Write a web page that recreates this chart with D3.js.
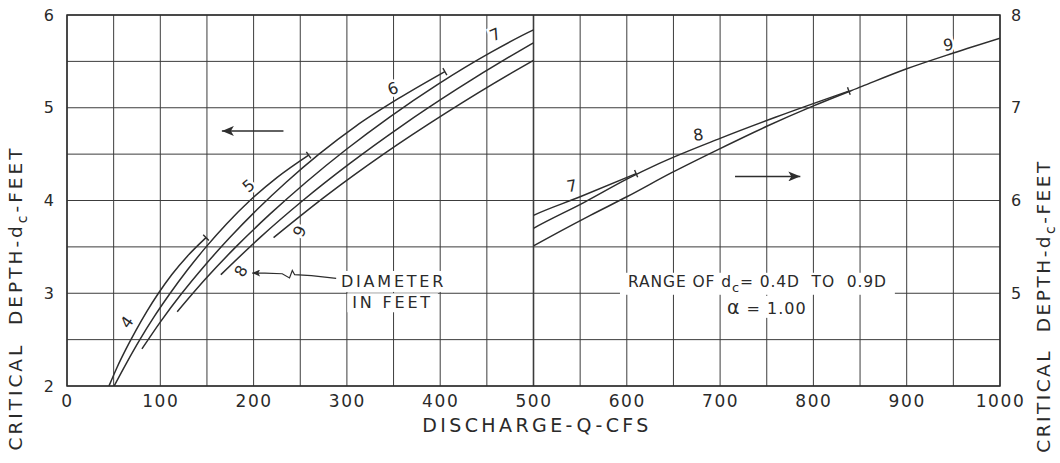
<!DOCTYPE html>
<html>
<head>
<meta charset="utf-8">
<script src="https://cdn.jsdelivr.net/npm/d3@7"></script>
<style>
body { margin: 0; background: #fff; }
svg { font-family: "DejaVu Sans", sans-serif; }
text { fill: #2a2a2a; }
</style>
</head>
<body>
<svg id="chart" width="1060" height="463"></svg>
<script>
// axis ticks
var qTicks = [0, 100, 200, 300, 400, 500, 600, 700, 800, 900, 1000]
var leftDepthTicks = [2, 3, 4, 5, 6]
var rightDepthTicks = [5, 6, 7, 8]
var qGrid = d3.range(0, 1001, 50)
var depthGrid = d3.range(2, 6.01, 0.5)

// [Q cfs, dc feet], one list per pipe diameter
var pipe4 = [[45,2.0],[53.6,2.2],[63.3,2.4],[73.9,2.6],[85.3,2.8],[98,3.0],[112.2,3.2],[129,3.4],[149,3.6]]
var pipe5 = [[50.5,2.0],[63.9,2.25],[78.1,2.5],[93.6,2.75],[110.6,3.0],[129,3.25],[149.1,3.5],[171.2,3.75],[196.1,4.0],[225.3,4.25],[259,4.49]]
var pipe6 = [[80.3,2.4],[100.7,2.7],[123.1,3.0],[147.7,3.3],[174.5,3.6],[203.5,3.9],[235.2,4.2],[270.1,4.5],[309.3,4.8],[355.4,5.1],[405,5.39]]
var pipe7 = [[118.1,2.8],[148.1,3.15],[181,3.5],[217.2,3.85],[256.5,4.2],[299.2,4.55],[345.8,4.9],[397,5.25],[454.7,5.6],[500,5.84],[550,6.04],[610,6.29]]
var pipe8 = [[164.9,3.2],[206.8,3.6],[252.8,4.0],[303.2,4.4],[358.1,4.8],[417.8,5.2],[482.8,5.6],[500,5.7],[554.4,5.98],[600,6.23],[634.9,6.4],[700,6.67],[760,6.9],[838,7.18]]
var pipe9 = [[221.4,3.6],[277.6,4.05],[339.3,4.5],[407.1,4.95],[480.8,5.4],[500,5.51],[560.9,5.84],[600,6.04],[648.1,6.3],[700,6.56],[750,6.8],[800,7.02],[852,7.23],[900,7.42],[950,7.59],[1000,7.75]]

var pipes = [
	{d: 4, pts: pipe4, endTick: "L"},
	{d: 5, pts: pipe5, endTick: "L"},
	{d: 6, pts: pipe6, endTick: "L"},
	{d: 7, pts: pipe7, endTick: "R"},
	{d: 8, pts: pipe8, endTick: "R"},
	{d: 9, pts: pipe9, endTick: null}
]

var svg = d3.select("#chart")
var ink = "#2e2e2e"

var x = d3.scaleLinear().domain([0, 1000]).range([67, 1000])
var yL = d3.scaleLinear().domain([2, 6]).range([386, 15])
var yR = d3.scaleLinear().domain([4, 8]).range([386, 15])

var defs = svg.append("defs")
defs.append("clipPath").attr("id", "clipL").append("rect")
	.attr("x", x(0)).attr("y", yL(6)).attr("width", x(500) - x(0)).attr("height", yL(2) - yL(6))
defs.append("clipPath").attr("id", "clipR").append("rect")
	.attr("x", x(500)).attr("y", yL(6)).attr("width", x(1000) - x(500)).attr("height", yL(2) - yL(6))
defs.append("marker")
	.attr("id", "head")
	.attr("viewBox", "0 -5 12 10")
	.attr("refX", 12).attr("refY", 0)
	.attr("markerWidth", 12).attr("markerHeight", 10)
	.attr("markerUnits", "userSpaceOnUse")
	.attr("orient", "auto")
	.append("path").attr("d", "M12,0L0,-5L3,0L0,5Z").attr("fill", ink)
defs.append("marker")
	.attr("id", "smallhead")
	.attr("viewBox", "0 -4 9 8")
	.attr("refX", 9).attr("refY", 0)
	.attr("markerWidth", 9).attr("markerHeight", 7)
	.attr("markerUnits", "userSpaceOnUse")
	.attr("orient", "auto")
	.append("path").attr("d", "M9,0L0,-4L2,0L0,4Z").attr("fill", ink)

// grid
var grid = svg.append("g").attr("stroke", "#3c3c3c").attr("stroke-width", 1)
grid.selectAll("line.v")
	.data(qGrid)
	.enter()
	.append("line")
	.attr("class", "v")
	.attr("x1", function(d){ return x(d) })
	.attr("x2", function(d){ return x(d) })
	.attr("y1", yL(2))
	.attr("y2", yL(6))
	.attr("stroke-width", function(d){ return d == 500 ? 1.6 : 1 })
grid.selectAll("line.h")
	.data(depthGrid)
	.enter()
	.append("line")
	.attr("class", "h")
	.attr("x1", x(0))
	.attr("x2", x(1000))
	.attr("y1", function(d){ return yL(d) })
	.attr("y2", function(d){ return yL(d) })
svg.append("rect")
	.attr("x", x(0)).attr("y", yL(6))
	.attr("width", x(1000) - x(0)).attr("height", yL(2) - yL(6))
	.attr("fill", "none").attr("stroke", ink).attr("stroke-width", 1.5)

// notes sit on white boxes that break the grid
function noteText(g, q, dc, y, size, spacing) {
	return g.append("text")
		.attr("x", x(q)).attr("y", y(dc))
		.attr("dy", "0.36em")
		.attr("text-anchor", "middle")
		.attr("font-size", size)
		.attr("letter-spacing", spacing)
		.style("white-space", "pre")
}
function backBox(g, t, padX, padY) {
	var b = t.node().getBBox()
	g.insert("rect", "text")
		.attr("x", b.x - padX).attr("y", b.y - padY)
		.attr("width", b.width + 2 * padX).attr("height", b.height + 2 * padY)
		.attr("fill", "#fff")
}

var notes = svg.append("g")
var t1 = noteText(notes, 350, 3.13, yL, 16, 2.8).text("DIAMETER")
var t2 = noteText(notes, 349, 2.9, yL, 16, 2.8).text("IN FEET")
var t3 = noteText(notes, 740, 5.13, yR, 15.5, 0.9)
t3.append("tspan").text("RANGE OF d")
t3.append("tspan").attr("font-size", 13).attr("dy", 5).text("c")
t3.append("tspan").attr("dy", -5).text("= 0.4D  TO  0.9D")
var t4 = noteText(notes, 750, 4.84, yR, 16, 1)
t4.append("tspan").attr("font-size", 19).text("\u03b1")
t4.append("tspan").text(" = 1.00")
backBox(notes, t1, 5, 1)
backBox(notes, t2, 5, 0)
backBox(notes, t3, 8, 0)
backBox(notes, t4, 4, 0)

// curves
var lineL = d3.line().x(function(p){ return x(p[0]) }).y(function(p){ return yL(p[1]) }).curve(d3.curveMonotoneX)
var lineR = d3.line().x(function(p){ return x(p[0]) }).y(function(p){ return yR(p[1]) }).curve(d3.curveMonotoneX)

var gL = svg.append("g").attr("clip-path", "url(#clipL)")
var gR = svg.append("g").attr("clip-path", "url(#clipR)")

gL.selectAll("path")
	.data(pipes)
	.enter()
	.append("path")
	.attr("d", function(p){ return lineL(p.pts) })
	.attr("fill", "none").attr("stroke", ink).attr("stroke-width", 1.5)
gR.selectAll("path")
	.data(pipes)
	.enter()
	.append("path")
	.attr("d", function(p){ return lineR(p.pts) })
	.attr("fill", "none").attr("stroke", ink).attr("stroke-width", 1.5)

// small cross ticks at the 0.9D end of each curve
pipes.forEach(function(p){
	if (!p.endTick) return
	var y = p.endTick == "L" ? yL : yR
	var a = p.pts[p.pts.length - 2], b = p.pts[p.pts.length - 1]
	var dx = x(b[0]) - x(a[0]), dy = y(b[1]) - y(a[1])
	var len = Math.sqrt(dx * dx + dy * dy)
	var nx = -dy / len * 4, ny = dx / len * 4
	svg.append("line")
		.attr("x1", x(b[0]) + nx).attr("y1", y(b[1]) + ny)
		.attr("x2", x(b[0]) - nx).attr("y2", y(b[1]) - ny)
		.attr("stroke", ink).attr("stroke-width", 1.4)
})

// curve labels
var curveLabels = [
	{t: "4", q: 64, dc: 2.69, y: yL, r: -55},
	{t: "5", q: 194.6, dc: 4.16, y: yL, r: -40},
	{t: "6", q: 349.3, dc: 5.21, y: yL, r: -20},
	{t: "7", q: 459, dc: 5.79, y: yL, r: -25},
	{t: "8", q: 186.4, dc: 3.24, y: yL, r: -60},
	{t: "9", q: 249.2, dc: 3.67, y: yL, r: -65},
	{t: "7", q: 541, dc: 6.16, y: yR, r: -10},
	{t: "8", q: 676.7, dc: 6.71, y: yR, r: -8},
	{t: "9", q: 944.6, dc: 7.68, y: yR, r: -8}
]
svg.append("g")
	.selectAll("text")
	.data(curveLabels)
	.enter()
	.append("text")
	.attr("transform", function(d){ return "translate(" + x(d.q) + "," + d.y(d.dc) + ") rotate(" + d.r + ")" })
	.attr("dy", "0.36em")
	.attr("text-anchor", "middle")
	.attr("font-size", 16)
	.attr("stroke", "#fff").attr("stroke-width", 5).attr("paint-order", "stroke")
	.text(function(d){ return d.t })

// arrows
var arrow = d3.line().x(function(p){ return x(p[0]) }).y(function(p){ return p[2](p[1]) })
svg.append("path")
	.attr("d", arrow([[232, 4.75, yL], [166, 4.75, yL]]))
	.attr("stroke", ink).attr("stroke-width", 1.5).attr("fill", "none")
	.attr("marker-end", "url(#head)")
svg.append("path")
	.attr("d", arrow([[716, 6.26, yR], [786, 6.26, yR]]))
	.attr("stroke", ink).attr("stroke-width", 1.5).attr("fill", "none")
	.attr("marker-end", "url(#head)")

// leader from DIAMETER note to the 8 label
var leader = [[288.5, 3.16], [262, 3.19], [244, 3.2], [241.5, 3.245], [238.5, 3.165], [230.7, 3.21], [212, 3.218], [198.5, 3.218]]
svg.append("path")
	.attr("d", d3.line().x(function(p){ return x(p[0]) }).y(function(p){ return yL(p[1]) })(leader))
	.attr("stroke", ink).attr("stroke-width", 1.2).attr("fill", "none")
	.attr("marker-end", "url(#smallhead)")

// axes
var axX = svg.append("g")
	.attr("transform", "translate(0," + yL(2) + ")")
	.call(d3.axisBottom(x).tickValues(qTicks).tickSize(0).tickPadding(9).tickFormat(d3.format("d")))
axX.select(".domain").remove()
axX.attr("font-family", null).attr("font-size", 17).attr("color", "#2a2a2a")
axX.selectAll("text").attr("letter-spacing", 1.6)

var axL = svg.append("g")
	.attr("transform", "translate(" + x(0) + ",0)")
	.call(d3.axisLeft(yL).tickValues(leftDepthTicks).tickSize(0).tickPadding(13).tickFormat(d3.format("d")))
axL.select(".domain").remove()
axL.attr("font-family", null).attr("font-size", 16).attr("color", "#2a2a2a")

var axR = svg.append("g")
	.attr("transform", "translate(" + x(1000) + ",0)")
	.call(d3.axisRight(yR).tickValues(rightDepthTicks).tickSize(0).tickPadding(11).tickFormat(d3.format("d")))
axR.select(".domain").remove()
axR.attr("font-family", null).attr("font-size", 16).attr("color", "#2a2a2a")

// titles
svg.append("text")
	.attr("x", 537).attr("y", 432)
	.attr("text-anchor", "middle")
	.attr("font-size", 19)
	.attr("letter-spacing", 3.4)
	.text("DISCHARGE-Q-CFS")

function depthTitle(tx, ty, spacing) {
	var t = svg.append("text")
		.attr("transform", "translate(" + tx + "," + ty + ") rotate(-90)")
		.attr("text-anchor", "middle")
		.attr("font-size", 18.5)
		.attr("letter-spacing", spacing)
		.style("white-space", "pre")
	t.append("tspan").text("CRITICAL  DEPTH-d")
	t.append("tspan").attr("font-size", 14).attr("dy", 5).text("c")
	t.append("tspan").attr("dy", -5).text("-FEET")
}
depthTitle(22, 298, 3.0)
depthTitle(1050, 306, 2.5)
</script>
</body>
</html>
